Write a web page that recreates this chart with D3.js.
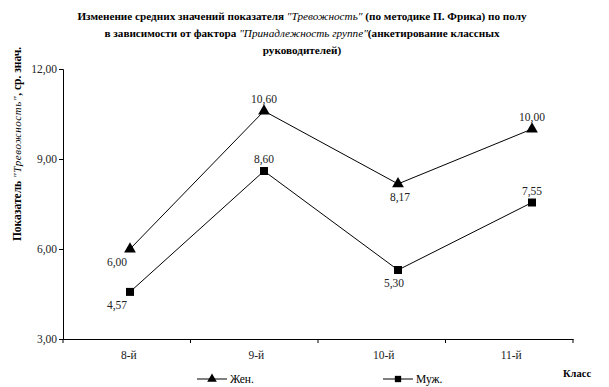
<!DOCTYPE html>
<html><head><meta charset="utf-8">
<script src="https://cdn.jsdelivr.net/npm/d3@7/dist/d3.min.js"></script>
<style>body{margin:0;background:#fff}svg{display:block}</style>
</head><body><svg id="c" width="609" height="387"></svg>
<script>
const categories = ["8-й","9-й","10-й","11-й"];
const female = [6.00, 10.60, 8.17, 10.00];
const male = [4.57, 8.60, 5.30, 7.55];
const yTicks = [3,6,9,12];
const seriesNames = ["Жен.","Муж."];

const svg = d3.select("#c");
const fmt = v => d3.format(".2f")(v).replace(".", ",");

const band = d3.scaleBand().domain(categories).range([63, 573]);
const xp = d3.scalePoint().domain(categories).range([130, 532]);
const y = d3.scaleLinear().domain([3,12]).range([339, 69]);

function T(sel, size){ return sel.append("text").attr("font-family","Tinos, 'Liberation Serif', 'Times New Roman'").attr("font-size",size||11); }

// title
const titleLines = [
  [["b","Изменение средних значений показателя "],["i","\"Тревожность\""],["b","  (по методике П. Фрика)  по полу"]],
  [["b","в зависимости от фактора "],["i","\"Принадлежность группе\""],["b","(анкетирование классных"]],
  [["b","руководителей)"]]
];
titleLines.forEach((parts,li)=>{
  const t = T(svg,11.2).attr("x",302).attr("y",20+li*17).attr("text-anchor","middle").attr("fill","#000");
  parts.forEach(p=>{
    const s = t.append("tspan").text(p[1]);
    if(p[0]==="b") s.attr("font-weight","bold"); else s.attr("font-style","italic");
  });
});

// y axis
const ya = svg.append("g").attr("transform","translate(63,0)")
  .call(d3.axisLeft(y).tickValues(yTicks).tickSize(4).tickFormat(""));
ya.attr("font-family",null).select(".domain").attr("stroke","#000");
yTicks.forEach(v=>{
  T(svg,11.5).attr("x",57).attr("y",y(v)+4).attr("text-anchor","end").attr("fill","#222").text(fmt(v));
});

// x axis
const xa = svg.append("g").attr("transform","translate(0,339)")
  .call(d3.axisBottom(band).tickSize(0).tickFormat(""));
xa.attr("font-family",null).select(".domain").attr("stroke","#000");
categories.concat([null]).forEach((d,i)=>{
  const x = i<categories.length ? band(d) : band.range()[1];
  svg.append("line").attr("x1",x).attr("x2",x).attr("y1",339).attr("y2",343).attr("stroke","#000");
});
categories.forEach(c=>{
  T(svg,11.5).attr("x",band(c)+band.bandwidth()/2+2).attr("y",359).attr("text-anchor","middle").attr("fill","#222").text(c);
});

// y axis title
const yt = T(svg,11.5).attr("transform","translate(21,144) rotate(-90)").attr("text-anchor","middle").attr("fill","#000");
yt.append("tspan").attr("font-weight","bold").text("Показатель  ");
yt.append("tspan").attr("font-style","italic").attr("font-size",11).attr("letter-spacing",0.6).text("\"Тревожность\"");
yt.append("tspan").attr("font-weight","bold").text(", ср. знач.");

// series
const labelDx = [[-13,0,2,0],[-13,0,-4,0]];
const labelAbove = [[false,true,false,true],[false,true,false,true]];
const line = d3.line().x((d,i)=>xp(categories[i])).y(d=>y(d));
[female, male].forEach((vals, si)=>{
  const shape = si===0 ? d3.symbolTriangle : d3.symbolSquare;
  svg.append("path").datum(vals).attr("d",line).attr("fill","none").attr("stroke","#000").attr("stroke-width",1);
  const sym = d3.symbol().type(shape).size(si===1?64:60);
  vals.forEach((v,i)=>{
    svg.append("path").attr("d",sym).attr("transform",`translate(${xp(categories[i])},${y(v)})`).attr("fill","#000");
    T(svg,11.5).attr("x",xp(categories[i])+labelDx[si][i]).attr("y",y(v)+(labelAbove[si][i]?-8:17))
      .attr("text-anchor","middle").attr("fill","#222").text(fmt(v));
  });
});

// legend
const legendX = [197, 383];
seriesNames.forEach((n,i)=>{
  const g = svg.append("g").attr("transform",`translate(${legendX[i]},379)`);
  g.append("line").attr("x1",0).attr("x2",30).attr("y1",0).attr("y2",0).attr("stroke","#000");
  g.append("path").attr("d",d3.symbol().type(i===0?d3.symbolTriangle:d3.symbolSquare).size(40)())
    .attr("transform","translate(15,0)").attr("fill","#000");
  T(g,11.5).attr("x",33).attr("y",4).attr("fill","#000").text(n);
});
T(svg,10.5).attr("x",563).attr("y",377).attr("font-weight","bold").text("Класс");
</script></body></html>
